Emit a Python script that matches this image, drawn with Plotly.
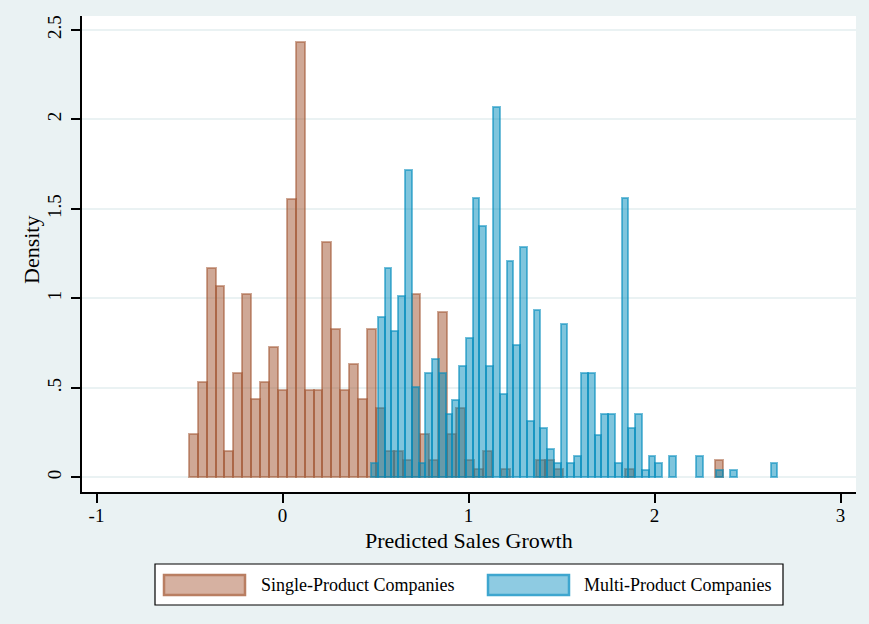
import numpy as np
import plotly.graph_objects as go

# Histogram bin layout (Stata-style: 60 equal bins starting at each group's minimum)
single_start = -0.504
single_width = 0.04791
multi_start = 0.4765
multi_width = 0.03639

# Observations per bin
single_counts = [
    5, 11, 24, 22, 3, 12, 21, 9, 11, 15,
    10, 32, 50, 10, 10, 27, 17, 10, 13, 9,
    17, 8, 3, 3, 2, 21, 5, 2, 19, 5,
    8, 2, 1, 3, 0, 1, 0, 0, 0, 2,
    2, 1, 0, 0, 0, 0, 0, 0, 0, 1,
    0, 0, 0, 0, 0, 0, 0, 0, 0, 2,
]
multi_counts = [
    2, 23, 30, 21, 26, 44, 13, 2, 15, 17,
    15, 9, 11, 16, 20, 40, 36, 16, 53, 12,
    31, 19, 33, 8, 24, 7, 4, 2, 22, 2,
    3, 15, 15, 6, 9, 9, 2, 40, 7, 9,
    1, 3, 2, 0, 3, 0, 0, 0, 3, 0,
    0, 1, 0, 1, 0, 0, 0, 0, 0, 2,
]

series_names = ["Single-Product Companies", "Multi-Product Companies"]
x_title = "Predicted Sales Growth"
y_title = "Density"
x_ticks = [-1, 0, 1, 2, 3]
y_ticks = [0, 0.5, 1, 1.5, 2, 2.5]
y_tick_text = ["0", ".5", "1", "1.5", "2", "2.5"]

BG = "#EAF2F3"
FONT = "Liberation Serif, Times New Roman, serif"
brown_fill = "rgba(160,82,45,0.5)"
brown_line = "rgba(160,82,45,0.5)"
blue_fill = "rgba(0,139,188,0.5)"
blue_line = "rgba(0,139,188,0.55)"


def density_bars(start, width, counts):
    """Bin centres and densities; empty bins are dropped so no outline is drawn."""
    counts = np.asarray(counts, dtype=float)
    centers = start + (np.arange(len(counts)) + 0.5) * width
    dens = counts / (counts.sum() * width)
    keep = counts > 0
    return centers[keep], dens[keep]


fig = go.Figure()
for (start, width, counts, fill, line, name) in [
    (single_start, single_width, single_counts, brown_fill, brown_line, series_names[0]),
    (multi_start, multi_width, multi_counts, blue_fill, blue_line, series_names[1]),
]:
    cx, dy = density_bars(start, width, counts)
    fig.add_trace(go.Bar(
        x=cx, y=dy, width=width, name=name, showlegend=False,
        marker=dict(color=fill, line=dict(color=line, width=2)),
    ))

# Plot-area geometry in pixels, used to place the legend box and axis titles
W, H = 869, 624
ml, mr, mt, mb = 82, 13, 16, 132
pw, ph = W - ml - mr, H - mt - mb


def px(xp):
    return (xp - ml) / pw


def py(yp):
    return (H - mb - yp) / ph


shapes = [
    dict(type="rect", xref="paper", yref="paper", x0=px(155), x1=px(783), y0=py(605), y1=py(564),
         line=dict(color="black", width=1.2), fillcolor="white"),
    dict(type="rect", xref="paper", yref="paper", x0=px(164), x1=px(245), y0=py(595), y1=py(575),
         line=dict(color="#B97E62", width=2.5), fillcolor="#D6B1A1"),
    dict(type="rect", xref="paper", yref="paper", x0=px(488), x1=px(569), y0=py(595), y1=py(575),
         line=dict(color="#3EA6CF", width=2.5), fillcolor="#8ECBE2"),
]
annotations = [
    dict(xref="paper", yref="paper", x=px(259), y=py(585), text=series_names[0], showarrow=False,
         xanchor="left", yanchor="middle", font=dict(family=FONT, size=18, color="black")),
    dict(xref="paper", yref="paper", x=px(582), y=py(585), text=series_names[1], showarrow=False,
         xanchor="left", yanchor="middle", font=dict(family=FONT, size=18, color="black")),
    dict(xref="paper", yref="paper", x=px(469), y=py(540), text=x_title, showarrow=False,
         xanchor="center", yanchor="middle", font=dict(family=FONT, size=22, color="black")),
    dict(xref="paper", yref="paper", x=px(31), y=py(250), text=y_title, showarrow=False,
         textangle=-90, xanchor="center", yanchor="middle",
         font=dict(family=FONT, size=22, color="black")),
]

fig.update_layout(
    width=W, height=H,
    margin=dict(l=ml, r=mr, t=mt, b=mb, pad=0),
    paper_bgcolor=BG, plot_bgcolor="white",
    barmode="overlay", bargap=0,
    font=dict(family=FONT, size=18, color="black"),
    shapes=shapes, annotations=annotations,
    xaxis=dict(
        range=[-1.078, 3.083], tickmode="array", tickvals=x_ticks,
        ticktext=[str(v) for v in x_ticks], ticklabelstandoff=-4,
        showgrid=False, zeroline=False, showline=True, linecolor="black", linewidth=1.5,
        ticks="outside", ticklen=9, tickwidth=1.5, tickcolor="black",
        tickfont=dict(family=FONT, size=19),
    ),
    yaxis=dict(
        range=[-0.082, 2.578], tickmode="array", tickvals=y_ticks, ticktext=y_tick_text,
        tickangle=-90, ticklabelstandoff=3,
        showgrid=True, gridcolor=BG, gridwidth=2, zeroline=False,
        showline=True, linecolor="black", linewidth=1.5,
        ticks="outside", ticklen=9, tickwidth=1.5, tickcolor="black",
        tickfont=dict(family=FONT, size=19),
    ),
)

fig.write_html("out.html")
